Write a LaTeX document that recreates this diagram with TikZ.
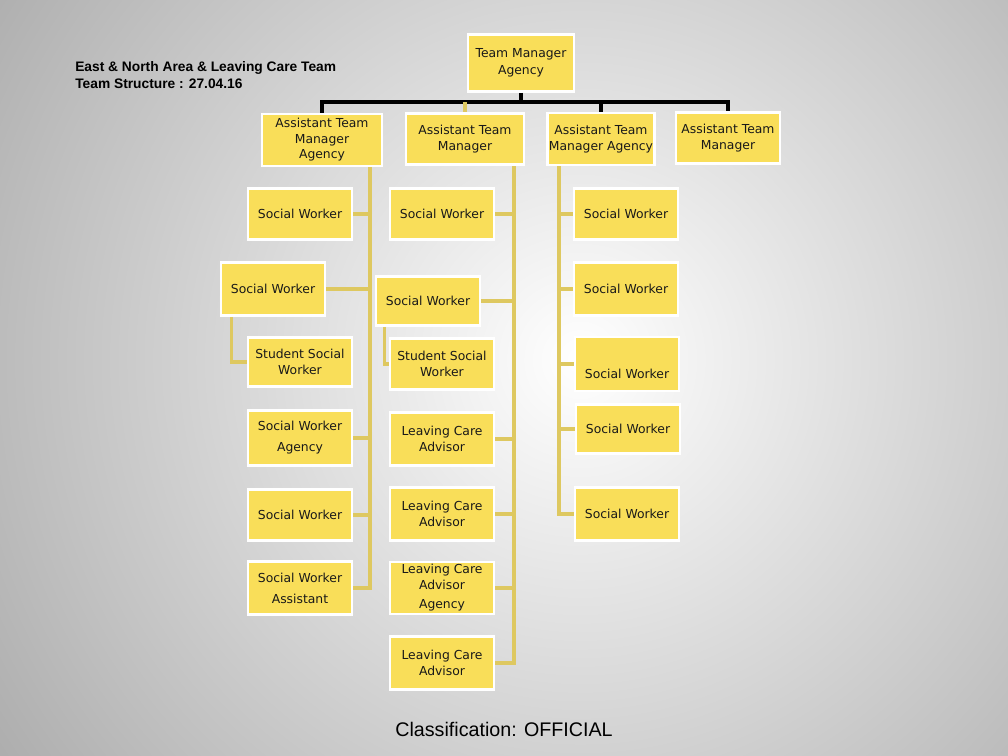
\documentclass[tikz,border=0pt]{standalone}
\usepackage{fontspec}
\setmainfont{Liberation Sans}
\newfontfamily\boxfont{DejaVu Sans}
\usetikzlibrary{positioning, calc}

\definecolor{boxyellow}{RGB}{249,222,89}
\definecolor{linkyellow}{RGB}{222,200,96}

\tikzset{
  post/.style={draw=white, line width=2pt, fill=boxyellow, align=center,
    inner sep=1pt, minimum width=2.6cm, minimum height=1.28cm,
    font=\boxfont\fontsize{8.8}{11}\selectfont, text=black!90},
  link/.style={linkyellow, line width=2.2pt},
  bus/.style={black, line width=2.2pt},
}

\begin{document}
\begin{tikzpicture}[x=0.025cm, y=-0.025cm]

  \useasboundingbox (0,0) rectangle (1008,756);

  % Background.
  \begin{scope}
    \clip (0,0) rectangle (1008,756);
    \fill[black!40] (0,0) rectangle (1008,756);
    \shade[inner color=white, outer color=black!40] (580,360) circle (22cm);
  \end{scope}

  % Heading and footer.
  \node[anchor=west, align=left, inner sep=0pt,
    font=\bfseries\fontsize{9.8}{12}\selectfont] (title)
    at (75,75) {East \& North Area \& Leaving Care Team\\Team Structure : 27.04.16};
  \node[font=\fontsize{14}{16}\selectfont] (cls) at (504,729) {Classification: OFFICIAL};

  % Manager and assistant managers.
  \node[post, minimum width=2.65cm, minimum height=1.42cm] (tm) at (521,63) {Team Manager\\[1pt]Agency};
  \node[post, minimum width=3cm, minimum height=1.3cm] (atm1) at (322,140) {Assistant Team\\Manager\\Agency};
  \node[post, minimum width=2.95cm] (atm2) at (465,139) {Assistant Team\\Manager};
  \node[post, minimum width=2.65cm, minimum height=1.3cm] (atm3) at (601,139) {Assistant Team\\Manager Agency};
  \node[post] (atm4) at (728,138) {Assistant Team\\Manager};

  % Black bus under the manager.
  \coordinate (busy) at (0,102);
  \draw[bus] (atm1.north) -- (atm1.north |- busy) -- (atm4.north |- busy) -- (atm4.north);
  \draw[bus] (tm.south) -- (tm.south |- busy);
  \draw[bus] (atm3.north |- busy) -- (atm3.north);
  \draw[link] (atm2.north |- busy) -- (atm2.north);

  % Spines.
  \coordinate (sp1) at (370,0);
  \coordinate (sp2) at (514,0);
  \coordinate (sp3) at (559,0);

  % First column.
  \node[post] (c1a) at (300,214) {Social Worker};
  \node[post, minimum height=1.32cm] (c1b) at (273,289) {Social Worker};
  \node[post, minimum height=1.22cm] (c1c) at (300,362) {Student Social\\Worker};
  \node[post, minimum height=1.36cm] (c1d) at (300,438) {Social Worker\\[4pt]Agency};
  \node[post] (c1e) at (300,515) {Social Worker};
  \node[post, minimum height=1.32cm] (c1f) at (300,588) {Social Worker\\[4pt]Assistant};

  \draw[link] (sp1 |- atm1.south) -- (sp1 |- c1f.east) -- (c1f.east);
  \foreach \n in {c1a,c1b,c1d,c1e}
    \draw[link] (\n.east) -- (\n.east -| sp1);
  \draw[link] ([xshift=0.3cm]c1b.south west) |- (c1c.west);

  % Second column.
  \node[post] (c2a) at (442,214) {Social Worker};
  \node[post, minimum height=1.22cm] (c2b) at (428,301) {Social Worker};
  \node[post] (c2c) at (442,364) {Student Social\\Worker};
  \node[post, minimum height=1.32cm] (c2d) at (442,439) {Leaving Care\\Advisor};
  \node[post, minimum height=1.32cm] (c2e) at (442,514) {Leaving Care\\Advisor};
  \node[post, minimum height=1.3cm] (c2f) at (442,588) {Leaving Care\\Advisor\\[3pt]Agency};
  \node[post, minimum height=1.32cm] (c2g) at (442,663) {Leaving Care\\Advisor};

  \draw[link] (sp2 |- atm2.south) -- (sp2 |- c2g.east) -- (c2g.east);
  \foreach \n in {c2a,c2b,c2d,c2e,c2f}
    \draw[link] (\n.east) -- (\n.east -| sp2);
  \draw[link] ([xshift=0.25cm]c2b.south west) |- (c2c.west);

  % Third column.
  \node[post] (c3a) at (626,214) {Social Worker};
  \node[post, minimum height=1.32cm] (c3b) at (626,289) {Social Worker};
  \node[post, minimum height=1.35cm, text height=0.72cm, text depth=0.02cm] (c3c) at (627,364) {Social Worker};
  \node[post, minimum height=1.24cm] (c3d) at (628,429) {Social Worker};
  \node[post, minimum height=1.32cm] (c3e) at (627,514) {Social Worker};

  \draw[link] (sp3 |- atm3.south) -- (sp3 |- c3e.west) -- (c3e.west);
  \foreach \n in {c3a,c3b,c3c,c3d}
    \draw[link] (\n.west) -- (\n.west -| sp3);

\end{tikzpicture}
\end{document}
